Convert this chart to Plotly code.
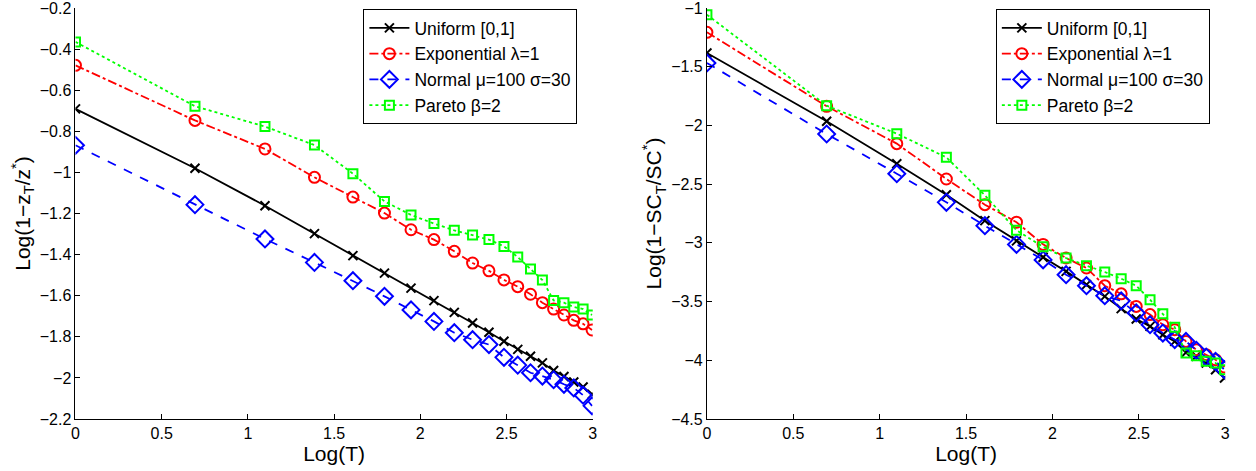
import plotly.graph_objects as go

# x = Log(T), T = 1..20
log_t = [0.0, 0.693, 1.099, 1.386, 1.609, 1.792, 1.946, 2.079, 2.197, 2.303,
         2.398, 2.485, 2.565, 2.639, 2.708, 2.773, 2.833, 2.890, 2.944, 2.996]

series_names = ["Uniform [0,1]", "Exponential λ=1", "Normal μ=100 σ=30", "Pareto β=2"]

# Left panel: Log(1 - z_T / z*)
uniform_z = [-0.691, -0.980, -1.162, -1.298, -1.405, -1.490, -1.563, -1.624, -1.681, -1.733,
             -1.778, -1.822, -1.861, -1.895, -1.927, -1.964, -1.993, -2.020, -2.044, -2.080]
expo_z = [-0.479, -0.747, -0.886, -1.024, -1.120, -1.198, -1.279, -1.327, -1.384, -1.441,
          -1.479, -1.523, -1.556, -1.593, -1.634, -1.665, -1.694, -1.720, -1.737, -1.767]
normal_z = [-0.868, -1.157, -1.324, -1.438, -1.527, -1.603, -1.669, -1.725, -1.780, -1.814,
            -1.838, -1.900, -1.938, -1.975, -1.991, -2.009, -2.031, -2.049, -2.084, -2.136]
pareto_z = [-0.365, -0.678, -0.777, -0.867, -1.006, -1.141, -1.207, -1.249, -1.282, -1.305,
            -1.327, -1.360, -1.412, -1.470, -1.524, -1.623, -1.634, -1.655, -1.665, -1.694]

# Right panel: Log(1 - SC_T / SC*)
uniform_sc = [-1.383, -1.965, -2.326, -2.590, -2.811, -2.983, -3.122, -3.243, -3.356, -3.456,
              -3.560, -3.648, -3.711, -3.782, -3.839, -3.933, -3.966, -4.023, -4.080, -4.151]
expo_sc = [-1.207, -1.837, -2.155, -2.456, -2.675, -2.824, -3.013, -3.129, -3.214, -3.365,
           -3.434, -3.541, -3.611, -3.697, -3.739, -3.839, -3.910, -3.952, -3.995, -4.057]
normal_sc = [-1.468, -2.073, -2.411, -2.655, -2.854, -3.013, -3.145, -3.271, -3.365, -3.450,
             -3.494, -3.597, -3.697, -3.768, -3.824, -3.839, -3.915, -3.972, -4.009, -4.080]
pareto_sc = [-1.057, -1.832, -2.070, -2.272, -2.595, -2.893, -3.034, -3.129, -3.194, -3.248,
             -3.305, -3.365, -3.484, -3.603, -3.719, -3.938, -3.961, -4.009, -4.023, -4.080]

x_ticks = [0, 0.5, 1, 1.5, 2, 2.5, 3]
x_ticktext = ["0", "0.5", "1", "1.5", "2", "2.5", "3"]
left_yticks = [-2.2, -2.0, -1.8, -1.6, -1.4, -1.2, -1.0, -0.8, -0.6, -0.4, -0.2]
left_yticktext = ["−2.2", "−2", "−1.8", "−1.6", "−1.4", "−1.2", "−1", "−0.8", "−0.6", "−0.4", "−0.2"]
right_yticks = [-4.5, -4.0, -3.5, -3.0, -2.5, -2.0, -1.5, -1.0]
right_yticktext = ["−4.5", "−4", "−3.5", "−3", "−2.5", "−2", "−1.5", "−1"]

styles = [
    dict(color="#000000", dash="solid", symbol="x-thin-open", size=9),
    dict(color="#FF0000", dash="dashdot", symbol="circle-open", size=11),
    dict(color="#0000FF", dash="dash", symbol="diamond-open", size=13),
    dict(color="#00FF00", dash="dot", symbol="square-open", size=9),
]

W, H = 1256, 471
TOP, BOTTOM = 8, 52
PLOT_H = H - TOP - BOTTOM
FONT = "Liberation Sans, Arial, Helvetica, sans-serif"

fig = go.Figure()

left_data = [uniform_z, expo_z, normal_z, pareto_z]
right_data = [uniform_sc, expo_sc, normal_sc, pareto_sc]

for name, ys, st in zip(series_names, left_data, styles):
    fig.add_trace(go.Scatter(
        x=log_t, y=ys, name=name, mode="lines+markers",
        line=dict(color=st["color"], dash=st["dash"], width=1.8),
        marker=dict(symbol=st["symbol"], size=st["size"], color=st["color"],
                    line=dict(color=st["color"], width=2)),
        xaxis="x", yaxis="y", legend="legend",
    ))

for name, ys, st in zip(series_names, right_data, styles):
    fig.add_trace(go.Scatter(
        x=log_t, y=ys, name=name, mode="lines+markers",
        line=dict(color=st["color"], dash=st["dash"], width=1.8),
        marker=dict(symbol=st["symbol"], size=st["size"], color=st["color"],
                    line=dict(color=st["color"], width=2)),
        xaxis="x2", yaxis="y2", legend="legend2",
    ))

axis_common = dict(
    showline=True, linecolor="#000000", linewidth=1,
    ticks="inside", ticklen=5, tickcolor="#000000", tickwidth=1,
    showgrid=False, zeroline=False, mirror=False,
    ticklabeloverflow="allow",
    tickfont=dict(family=FONT, size=16, color="#000000"),
)

title_font = dict(family=FONT, size=21, color="#000000")
legend_font = dict(family=FONT, size=17.5, color="#000000")
legend_y = 1 - (9 - TOP) / PLOT_H

fig.update_layout(
    width=W, height=H,
    margin=dict(l=0, r=0, t=TOP, b=BOTTOM),
    paper_bgcolor="white", plot_bgcolor="white",
    font=dict(family=FONT, color="#000000"),
    xaxis=dict(domain=[72 / W, 593 / W], range=[0, 3], tickvals=x_ticks, ticktext=x_ticktext,
               title=dict(text="Log(T)", font=title_font, standoff=2),
               anchor="y", **axis_common),
    yaxis=dict(domain=[0, 1], range=[-2.2, -0.2], tickvals=left_yticks, ticktext=left_yticktext,
               title=dict(text="Log(1−z<sub>T</sub>/z<sup>*</sup>)", font=title_font, standoff=3),
               anchor="x", **axis_common),
    xaxis2=dict(domain=[708 / W, 1230 / W], range=[0, 3], tickvals=x_ticks, ticktext=x_ticktext,
                title=dict(text="Log(T)", font=title_font, standoff=2),
                anchor="y2", **axis_common),
    yaxis2=dict(domain=[0, 1], range=[-4.5, -1.0], tickvals=right_yticks, ticktext=right_yticktext,
                title=dict(text="Log(1−SC<sub>T</sub>/SC<sup>*</sup>)", font=title_font, standoff=3),
                anchor="x2", **axis_common),
    legend=dict(x=362 / W, y=legend_y, xanchor="left", yanchor="top",
                bgcolor="white", bordercolor="#000000", borderwidth=1,
                font=legend_font, tracegroupgap=0, itemwidth=40),
    legend2=dict(x=999 / W, y=legend_y, xanchor="left", yanchor="top",
                 bgcolor="white", bordercolor="#000000", borderwidth=1,
                 font=legend_font, tracegroupgap=0, itemwidth=40),
    showlegend=True,
)

fig.write_html("out.html")
